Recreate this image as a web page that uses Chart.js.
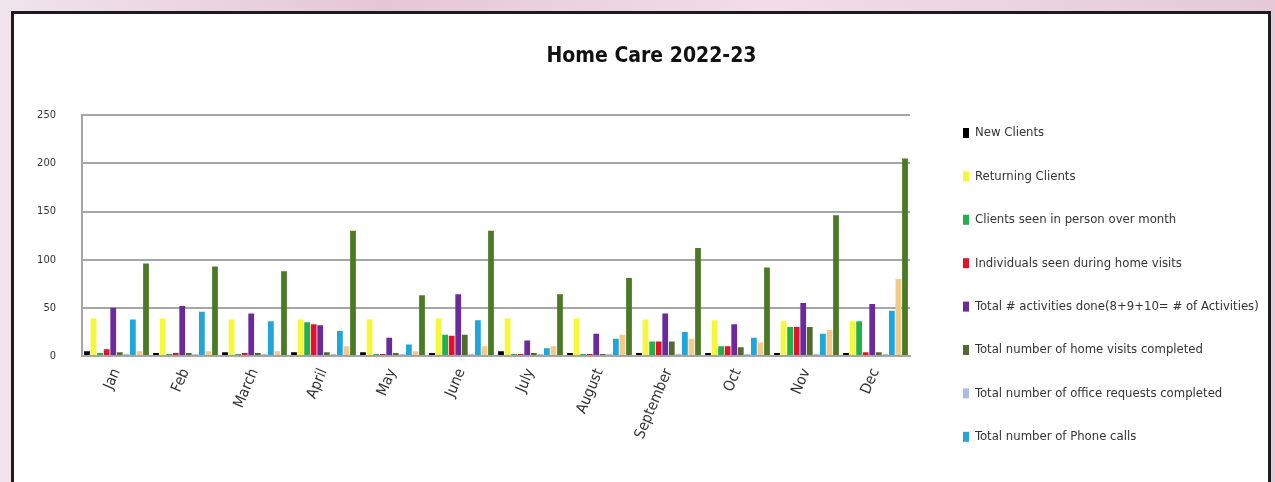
<!DOCTYPE html>
<html lang="en">
<head>
    <meta charset="UTF-8">
    <title>Home Care 2022-23</title>
    <script src="https://cdn.jsdelivr.net/npm/chart.js"></script>
    <style>
        html, body { margin: 0; padding: 0; }
        body {
            width: 1275px; height: 482px; overflow: hidden; position: relative;
            background: linear-gradient(90deg, #f0e4ec, #e6c6d6 30%, #f2dde8 60%, #e5c9d8);
        }
        .frame {
            position: absolute; left: 11px; top: 11px; width: 1254px; height: 500px;
            background: #fff; border: 3px solid #1c1c1c;
        }
        .chart-box { position: absolute; left: 0; top: 0; width: 1275px; height: 482px; }
    </style>
</head>
<body>
    <div class="frame"></div>
    <div class="chart-box"><canvas id="homeCare"></canvas></div>

    <script>
        const FONT = '"Liberation Sans Narrow", "DejaVu Sans Condensed", "Liberation Sans", sans-serif';

        // data
        const months = ['Jan', 'Feb', 'March', 'April', 'May', 'June', 'July', 'August', 'September', 'Oct', 'Nov', 'Dec'];
        const newClients     = [5, 3, 4, 4, 4, 3, 5, 3, 3, 3, 3, 3];
        const returning      = [39, 39, 38, 38, 38, 39, 39, 39, 38, 37, 36, 36];
        const seenInPerson   = [3, 2, 2, 35, 2, 22, 2, 2, 15, 10, 30, 36];
        const individuals    = [7, 3, 3, 33, 2, 21, 2, 2, 15, 10, 30, 4];
        const activities     = [50, 52, 44, 32, 19, 64, 16, 23, 44, 33, 55, 54];
        const homeVisits     = [4, 3, 3, 4, 3, 22, 3, 2, 15, 9, 30, 4];
        const officeRequests = [2, 2, 2, 2, 2, 2, 2, 2, 2, 2, 2, 2];
        const phoneCalls     = [38, 46, 36, 26, 12, 37, 8, 18, 25, 19, 23, 47];
        const series9        = [5, 5, 5, 10, 5, 10, 10, 22, 18, 14, 27, 80];
        const series10       = [96, 93, 88, 130, 63, 130, 64, 81, 112, 92, 146, 205];
        const yTicks = [0, 50, 100, 150, 200, 250];

        const seriesNames = [
            'New Clients',
            'Returning Clients',
            'Clients seen in person over month',
            'Individuals seen during home visits',
            'Total # activities done(8+9+10= # of Activities)',
            'Total number of home visits completed',
            'Total number of office requests completed',
            'Total number of Phone calls',
            'Series 9',
            'Series 10'
        ];
        const seriesData = [newClients, returning, seenInPerson, individuals, activities,
                            homeVisits, officeRequests, phoneCalls, series9, series10];
        const seriesColors = ['#000000', '#f7f73a', '#22b04c', '#e2122a', '#6a2a9c',
                              '#4f6b2e', '#a9bde0', '#1fa6dc', '#f3c98c', '#4b7a24'];
        const legendCount = 8; // the rest of the legend is below the crop

        const datasets = seriesData.map((d, i) => ({
            label: seriesNames[i],
            data: d,
            backgroundColor: seriesColors[i],
            borderWidth: 0,
            categoryPercentage: 0.95,
            barPercentage: 0.88
        }));

        // legend drawn at the right, one entry every ~43px
        const sideLegend = {
            id: 'sideLegend',
            afterDraw(chart) {
                const ctx = chart.ctx;
                ctx.save();
                ctx.font = '13px ' + FONT;
                ctx.textBaseline = 'middle';
                for (let i = 0; i < legendCount; i++) {
                    const y = 133 + i * 43.4;
                    ctx.fillStyle = seriesColors[i];
                    ctx.fillRect(963, y - 5, 6, 10);
                    ctx.fillStyle = '#333';
                    ctx.fillText(seriesNames[i], 975, y);
                }
                ctx.restore();
            }
        };

        new Chart(document.getElementById('homeCare'), {
            type: 'bar',
            data: { labels: months, datasets: datasets },
            options: {
                responsive: true,
                maintainAspectRatio: false,
                animation: false,
                layout: { padding: { left: 28, right: 0, top: 0, bottom: 0 } },
                plugins: {
                    legend: { display: false },
                    tooltip: { enabled: false },
                    title: {
                        display: true,
                        text: 'Home Care 2022-23',
                        color: '#111',
                        font: { family: FONT, size: 21, weight: 'bold' },
                        padding: { top: 44, bottom: 46 }
                    }
                },
                scales: {
                    x: {
                        offset: true,
                        grid: { display: false },
                        border: { color: '#a6a6a6', width: 2 },
                        ticks: {
                            autoSkip: false, maxRotation: 67, minRotation: 67,
                            color: '#333', font: { family: FONT, size: 15 }, padding: 2
                        },
                        afterFit: s => { s.height = 126; }
                    },
                    y: {
                        min: 0, max: 250,
                        afterBuildTicks: s => { s.ticks = yTicks.map(v => ({ value: v })); },
                        grid: { color: '#a6a6a6', lineWidth: 2, drawTicks: false },
                        border: { color: '#a6a6a6', width: 2 },
                        ticks: { color: '#333', font: { family: FONT, size: 11 }, padding: 26 },
                        afterFit: s => { s.width = 54; }
                    },
                    yr: {
                        type: 'linear',
                        position: 'right',
                        grid: { display: false },
                        border: { display: false },
                        ticks: { display: false },
                        afterFit: s => { s.width = 365; }
                    }
                }
            },
            plugins: [sideLegend]
        });
    </script>
</body>
</html>
